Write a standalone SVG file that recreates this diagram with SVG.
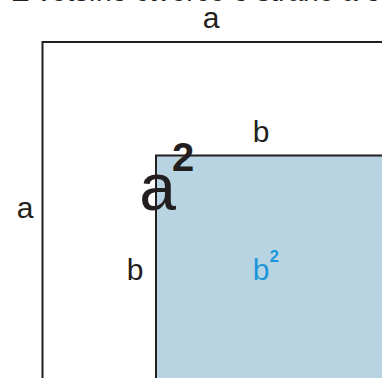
<svg xmlns="http://www.w3.org/2000/svg" width="382" height="378" viewBox="0 0 382 378">
<style>
.lbl{font-family:"Liberation Sans",Arial,sans-serif;fill:#231f20;}
.sq{stroke:#231f20;stroke-width:2;}
</style>
<rect width="382" height="378" fill="#ffffff"/>
<text x="12" y="1" font-family="Liberation Sans,Arial,sans-serif" font-size="28" fill="#231f20">Z většího čtverce o straně a odebereme</text>
<g id="outer-square">
<rect class="sq" x="42.5" y="42" width="400" height="400" fill="#ffffff"/>
</g>
<g id="inner-square">
<rect class="sq" x="156" y="155.5" width="300" height="300" fill="#b8d4e2"/>
</g>
<g id="labels">
<text class="lbl" x="211" y="28" font-size="30" text-anchor="middle">a</text>
<text class="lbl" x="25" y="218" font-size="30" text-anchor="middle">a</text>
<text class="lbl" x="261" y="142" font-size="30" text-anchor="middle">b</text>
<text class="lbl" x="135" y="280" font-size="30" text-anchor="middle">b</text>
<text class="lbl" x="157.5" y="210" font-size="66" text-anchor="middle">a</text>
<text class="lbl" x="172" y="171" font-size="40" font-weight="bold">2</text>
<text x="261" y="280" font-family="Liberation Sans,Arial,sans-serif" font-size="30" text-anchor="middle" fill="#1b96d8">b</text>
<text x="269.5" y="262" font-family="Liberation Sans,Arial,sans-serif" font-size="17" font-weight="bold" fill="#1b96d8">2</text>
</g>
</svg>
